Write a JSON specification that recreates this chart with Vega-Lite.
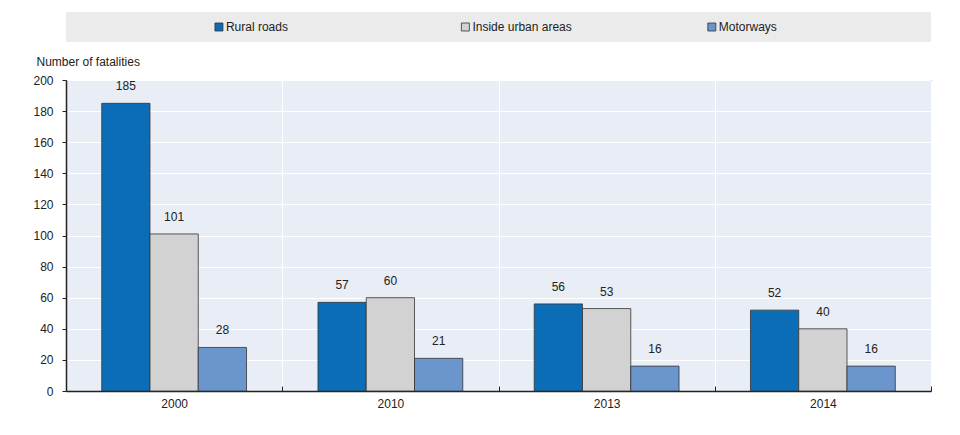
{
  "$schema": "https://vega.github.io/schema/vega-lite/v6.json",
  "autosize": {"type": "pad"},
  "padding": {"left": 32, "top": 12, "right": 28, "bottom": 20},
  "background": "white",
  "config": {
    "font": "Liberation Sans",
    "text": {"font": "Liberation Sans"}
  },
  "bounds": "flush",
  "spacing": 38,
  "datasets": {
    "fatalities": [
      {"year": "2000", "series": "Rural roads", "value": 185},
      {"year": "2000", "series": "Inside urban areas", "value": 101},
      {"year": "2000", "series": "Motorways", "value": 28},
      {"year": "2010", "series": "Rural roads", "value": 57},
      {"year": "2010", "series": "Inside urban areas", "value": 60},
      {"year": "2010", "series": "Motorways", "value": 21},
      {"year": "2013", "series": "Rural roads", "value": 56},
      {"year": "2013", "series": "Inside urban areas", "value": 53},
      {"year": "2013", "series": "Motorways", "value": 16},
      {"year": "2014", "series": "Rural roads", "value": 52},
      {"year": "2014", "series": "Inside urban areas", "value": 40},
      {"year": "2014", "series": "Motorways", "value": 16}
    ],
    "series": [
      {"series": "Rural roads"},
      {"series": "Inside urban areas"},
      {"series": "Motorways"}
    ]
  },
  "vconcat": [
    {
      "width": 865,
      "height": 30,
      "data": {"name": "series"},
      "view": {"fill": "#ebebeb", "stroke": null},
      "encoding": {
        "x": {
          "field": "series",
          "type": "nominal",
          "scale": {"type": "point", "domain": ["Rural roads", "Inside urban areas", "Motorways"], "padding": 0.755, "align": 0.411},
          "axis": null
        }
      },
      "layer": [
        {
          "mark": {"type": "square", "size": 64, "opacity": 1, "stroke": "#333333", "strokeWidth": 0.8},
          "encoding": {
            "color": {
              "field": "series",
              "type": "nominal",
              "scale": {"domain": ["Rural roads", "Inside urban areas", "Motorways"], "range": ["#0a6db6", "#d2d2d3", "#6a95cd"]},
              "legend": null
            }
          }
        },
        {
          "mark": {"type": "text", "align": "left", "baseline": "middle", "dx": 7, "fontSize": 12, "color": "#222222"},
          "encoding": {"text": {"field": "series"}}
        }
      ]
    },
    {
      "width": 865,
      "height": 311,
      "data": {"name": "fatalities"},
      "view": {"fill": "#e9edf5", "stroke": "#222222", "strokeWidth": 1},
      "encoding": {
        "x": {
          "field": "year",
          "type": "nominal",
          "scale": {"paddingInner": 0, "paddingOuter": 0},
          "axis": {
            "title": null,
            "labelAngle": 0,
            "tickBand": "extent",
            "grid": true,
            "gridColor": "#ffffff",
            "gridWidth": 1,
            "domainColor": "#222222",
            "domainWidth": 1.5,
            "tickColor": "#222222",
            "tickSize": -5,
            "labelPadding": 12,
            "labelFontSize": 12,
            "labelColor": "#222222"
          }
        },
        "y": {
          "field": "value",
          "type": "quantitative",
          "scale": {"domain": [0, 200], "nice": false},
          "axis": {
            "values": [0, 20, 40, 60, 80, 100, 120, 140, 160, 180, 200],
            "title": "Number of fatalities",
            "titleAngle": 0,
            "titleX": -30,
            "titleY": -19,
            "titleAlign": "left",
            "titleBaseline": "middle",
            "titleFontWeight": "normal",
            "titleFontSize": 12,
            "titleColor": "#222222",
            "grid": true,
            "gridColor": "#ffffff",
            "gridWidth": 1,
            "domainColor": "#222222",
            "domainWidth": 1.5,
            "tickColor": "#222222",
            "tickSize": 4,
            "labelPadding": 9,
            "labelFontSize": 12,
            "labelColor": "#222222"
          }
        },
        "xOffset": {
          "field": "series",
          "type": "nominal",
          "sort": ["Rural roads", "Inside urban areas", "Motorways"],
          "scale": {"paddingInner": 0, "paddingOuter": 0.74}
        }
      },
      "layer": [
        {
          "mark": {"type": "bar", "stroke": "#333333", "strokeWidth": 0.8},
          "encoding": {
            "color": {
              "field": "series",
              "type": "nominal",
              "scale": {"domain": ["Rural roads", "Inside urban areas", "Motorways"], "range": ["#0a6db6", "#d2d2d3", "#6a95cd"]},
              "legend": null
            }
          }
        },
        {
          "mark": {"type": "text", "baseline": "middle", "dy": -17, "fontSize": 12, "color": "#222222"},
          "encoding": {"text": {"field": "value", "type": "quantitative"}}
        }
      ]
    }
  ]
}
